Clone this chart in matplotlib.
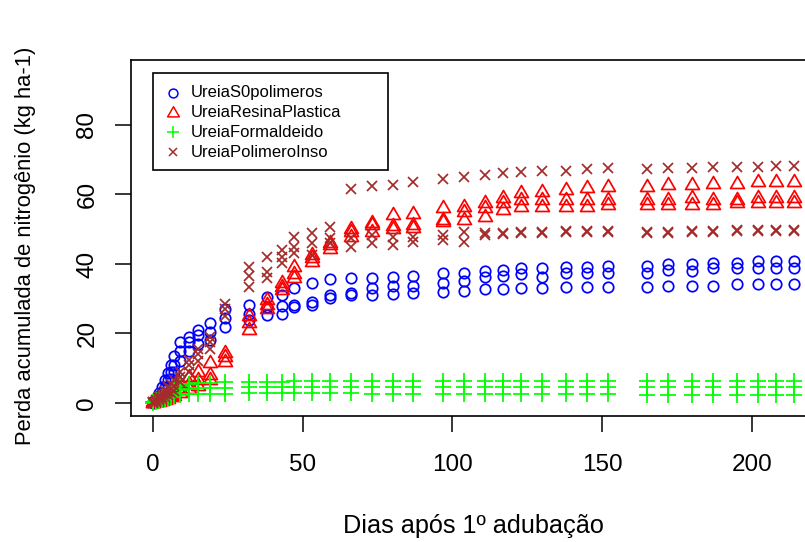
import matplotlib
matplotlib.use("Agg")
import matplotlib.pyplot as plt
from matplotlib.patches import Rectangle
from matplotlib.path import Path

plt.rcParams['font.family'] = ['Liberation Sans', 'DejaVu Sans']

# dias de coleta
dias = [0, 1, 2, 3, 4, 5, 6, 7, 9, 12, 15, 19, 24, 32, 38, 43, 47, 53, 59, 66,
        73, 80, 87, 97, 104, 111, 117, 123, 130, 138, 145, 152, 165, 172, 180,
        187, 195, 202, 208, 214]

# Ureia sem polimeros (3 repeticoes)
s0_a = [0.3, 1.5, 3.0, 4.5, 6.5, 8.5, 11.0, 13.5, 17.5, 19.0, 21.0, 23.0, 27.0, 28.2,
        30.6, 31.1, 33.0, 34.6, 35.6, 35.9, 35.9, 36.3, 36.5, 37.5, 37.3, 38.0, 38.3,
        38.8, 38.8, 39.0, 39.0, 39.4, 39.4, 40.0, 40.0, 40.4, 40.4, 40.9, 40.9, 40.9]
s0_b = [0.2, 1.0, 2.0, 3.0, 4.5, 6.5, 9.0, 11.0, 15.0, 17.5, 19.5, 20.5, 24.5, 25.5,
        27.7, 28.0, 28.2, 29.2, 31.1, 31.6, 33.0, 33.8, 33.8, 34.6, 35.1, 36.3, 36.5,
        37.1, 36.3, 37.3, 37.3, 37.5, 37.5, 38.3, 38.0, 38.8, 38.8, 38.8, 38.8, 38.8]
s0_c = [0.1, 0.5, 1.2, 2.0, 3.0, 4.5, 7.0, 9.0, 12.0, 15.0, 17.0, 18.0, 22.0, 24.0,
        25.3, 25.5, 27.7, 28.2, 30.1, 31.1, 31.1, 31.4, 31.7, 31.9, 32.2, 32.8, 32.7,
        33.0, 33.0, 33.5, 33.5, 33.5, 33.5, 33.8, 33.8, 33.8, 34.2, 34.2, 34.2, 34.2]

# Ureia resina plastica
rp_a = [0.2, 0.6, 1.0, 1.5, 2.0, 2.5, 3.2, 4.0, 5.5, 7.5, 9.0, 11.5, 14.5, 25.0,
        29.6, 34.5, 39.0, 42.6, 46.0, 50.0, 51.7, 54.1, 54.4, 56.0, 56.5, 57.5, 58.9,
        60.3, 60.8, 61.3, 61.8, 62.2, 62.2, 62.7, 62.7, 63.1, 63.1, 63.7, 63.7, 63.7]
rp_b = [0.1, 0.4, 0.7, 1.0, 1.4, 1.8, 2.3, 3.0, 4.0, 5.5, 6.5, 8.0, 13.2, 23.0,
        28.2, 33.4, 37.0, 41.7, 45.5, 49.2, 51.2, 51.0, 51.2, 52.7, 55.0, 56.0, 57.5,
        58.4, 58.4, 58.4, 58.4, 58.4, 58.4, 58.4, 58.9, 58.4, 58.4, 58.9, 58.9, 58.9]
rp_c = [0.0, 0.2, 0.4, 0.6, 0.9, 1.2, 1.6, 2.0, 2.8, 4.0, 5.0, 6.5, 11.8, 21.0,
        27.0, 32.5, 36.0, 40.6, 44.3, 47.8, 49.2, 50.0, 50.5, 52.0, 52.7, 53.6, 55.5,
        56.5, 56.5, 56.5, 56.5, 57.0, 57.0, 57.0, 57.0, 57.0, 57.5, 57.5, 57.5, 57.5]

# Ureia formaldeido
fo_a = [0.3, 0.8, 1.3, 1.8, 2.4, 3.0, 3.6, 4.2, 5.0, 5.5, 5.7, 5.8, 5.9, 6.0,
        6.1, 6.1, 6.2, 6.2, 6.2, 6.3, 6.3, 6.3, 6.3, 6.3, 6.3, 6.3, 6.3, 6.4, 6.4,
        6.4, 6.4, 6.4, 6.4, 6.4, 6.4, 6.4, 6.4, 6.4, 6.4, 6.4]
fo_b = [0.2, 0.5, 0.9, 1.3, 1.7, 2.2, 2.6, 3.0, 3.6, 4.0, 4.2, 4.3, 4.4, 4.5,
        4.5, 4.5, 4.6, 4.6, 4.6, 4.6, 4.6, 4.6, 4.6, 4.6, 4.6, 4.6, 4.6, 4.6, 4.6,
        4.6, 4.6, 4.6, 4.6, 4.6, 4.6, 4.6, 4.6, 4.6, 4.6, 4.6]
fo_c = [0.0, 0.2, 0.5, 0.8, 1.1, 1.4, 1.7, 2.0, 2.3, 2.5, 2.6, 2.7, 2.7, 2.8,
        2.8, 2.8, 2.8, 2.8, 2.8, 2.8, 2.7, 2.6, 2.6, 2.6, 2.6, 2.5, 2.5, 2.5, 2.5,
        2.5, 2.5, 2.5, 2.4, 2.4, 2.4, 2.4, 2.4, 2.4, 2.4, 2.4]

# Ureia polimero insoluvel
pi_a = [0.3, 1.0, 1.8, 2.6, 3.5, 4.5, 5.5, 6.5, 9.0, 12.5, 15.5, 19.0, 28.5, 39.2,
        42.1, 44.0, 47.9, 48.8, 50.7, 61.5, 62.4, 62.7, 63.7, 64.4, 65.0, 65.6, 66.1,
        66.6, 66.9, 66.9, 67.3, 67.5, 67.3, 67.5, 67.5, 67.8, 67.8, 68.0, 68.2, 68.2]
pi_b = [0.2, 0.7, 1.2, 1.8, 2.5, 3.2, 4.0, 5.0, 7.5, 11.0, 14.0, 17.5, 27.0, 36.5,
        37.8, 42.0, 45.0, 46.0, 47.5, 47.4, 48.3, 47.9, 47.9, 48.3, 49.3, 48.9, 49.0,
        49.2, 49.2, 49.5, 49.5, 49.5, 49.3, 49.3, 49.5, 49.5, 49.7, 49.7, 49.7, 49.7]
pi_c = [0.0, 0.4, 0.8, 1.2, 1.7, 2.2, 2.8, 3.5, 6.0, 9.0, 12.0, 15.5, 25.0, 33.5,
        35.9, 40.2, 43.1, 42.5, 46.0, 45.0, 46.0, 45.5, 46.4, 46.9, 46.4, 48.3, 48.5,
        48.8, 48.8, 49.1, 49.1, 49.1, 48.8, 48.8, 49.1, 49.1, 49.4, 49.4, 49.4, 49.4]

nomes = ["UreiaS0polimeros", "UreiaResinaPlastica", "UreiaFormaldeido", "UreiaPolimeroInso"]
cores = ["#0000FF", "#FF0000", "#00FF00", "#A52A2A"]

# R style triangle (pch = 2)
tri = Path([(0, 1.555), (-1.347, -0.778), (1.347, -0.778), (0, 1.555)], closed=True)
marcadores = ["o", tri, "+", "x"]
tamanhos = [7.5, 11.5, 11.0, 7.6]

fig = plt.figure(figsize=(8.05, 5.42), dpi=100)
# axes box: left 131px, top 60px, bottom 416px, right past the image edge (~815px)
ax = fig.add_axes([131 / 805, 1 - 416 / 542, 684 / 805, 356 / 542])

series = [(s0_a, s0_b, s0_c), (rp_a, rp_b, rp_c), (fo_a, fo_b, fo_c), (pi_a, pi_b, pi_c)]
for reps, cor, mk, ms in zip(series, cores, marcadores, tamanhos):
    for r in reps:
        ax.plot(dias, r, linestyle="none", marker=mk, markersize=ms,
                markerfacecolor="none", markeredgecolor=cor, markeredgewidth=1.25,
                clip_on=True)

ax.set_xlim(-7.35, 221.1)
ax.set_ylim(-3.74, 98.7)
ax.set_xticks([0, 50, 100, 150, 200])
ax.set_yticks([0, 20, 40, 60, 80])
ax.spines["right"].set_visible(False)
for s in ["left", "top", "bottom"]:
    ax.spines[s].set_linewidth(1.2)
ax.tick_params(direction="out", length=11.5, width=1.1, labelsize=17.5)
ax.tick_params(axis="x", pad=16)
ax.tick_params(axis="y", pad=12, labelrotation=90)
for lb in ax.get_yticklabels():
    lb.set_va("center")

ax.set_xlabel("Dias após 1º adubação", fontsize=18.2)
ax.set_ylabel("Perda acumulada de nitrogênio (kg ha-1)", fontsize=15.8)
ax.xaxis.set_label_coords(0.5, (416 - 533) / 356)
ax.xaxis.label.set_va("baseline")
ax.yaxis.set_label_coords((31 - 131) / 684, (416 - 246) / 356)
ax.yaxis.label.set_va("baseline")


def px(x, y):
    # pixel position in the image -> axes fraction
    return (x - 131) / 684, (416 - y) / 356


# legend box
x0, y0 = px(153, 170)
x1, y1 = px(388, 73)
ax.add_patch(Rectangle((x0, y0), x1 - x0, y1 - y0, transform=ax.transAxes,
                       facecolor="white", edgecolor="black", linewidth=1.2,
                       zorder=5, clip_on=False))
for i, (nome, cor, mk, ms) in enumerate(zip(nomes, cores, marcadores, tamanhos)):
    yy = 93 + i * 19.7
    mx, my = px(173, yy)
    ax.plot([mx], [my], transform=ax.transAxes, linestyle="none", marker=mk,
            markersize=ms * 0.85, markerfacecolor="none", markeredgecolor=cor,
            markeredgewidth=1.1, zorder=6, clip_on=False)
    tx, ty = px(191, yy)
    ax.text(tx, ty, nome, transform=ax.transAxes, fontsize=12, va="center",
            ha="left", zorder=6)

fig.savefig("out.png", dpi=100)
